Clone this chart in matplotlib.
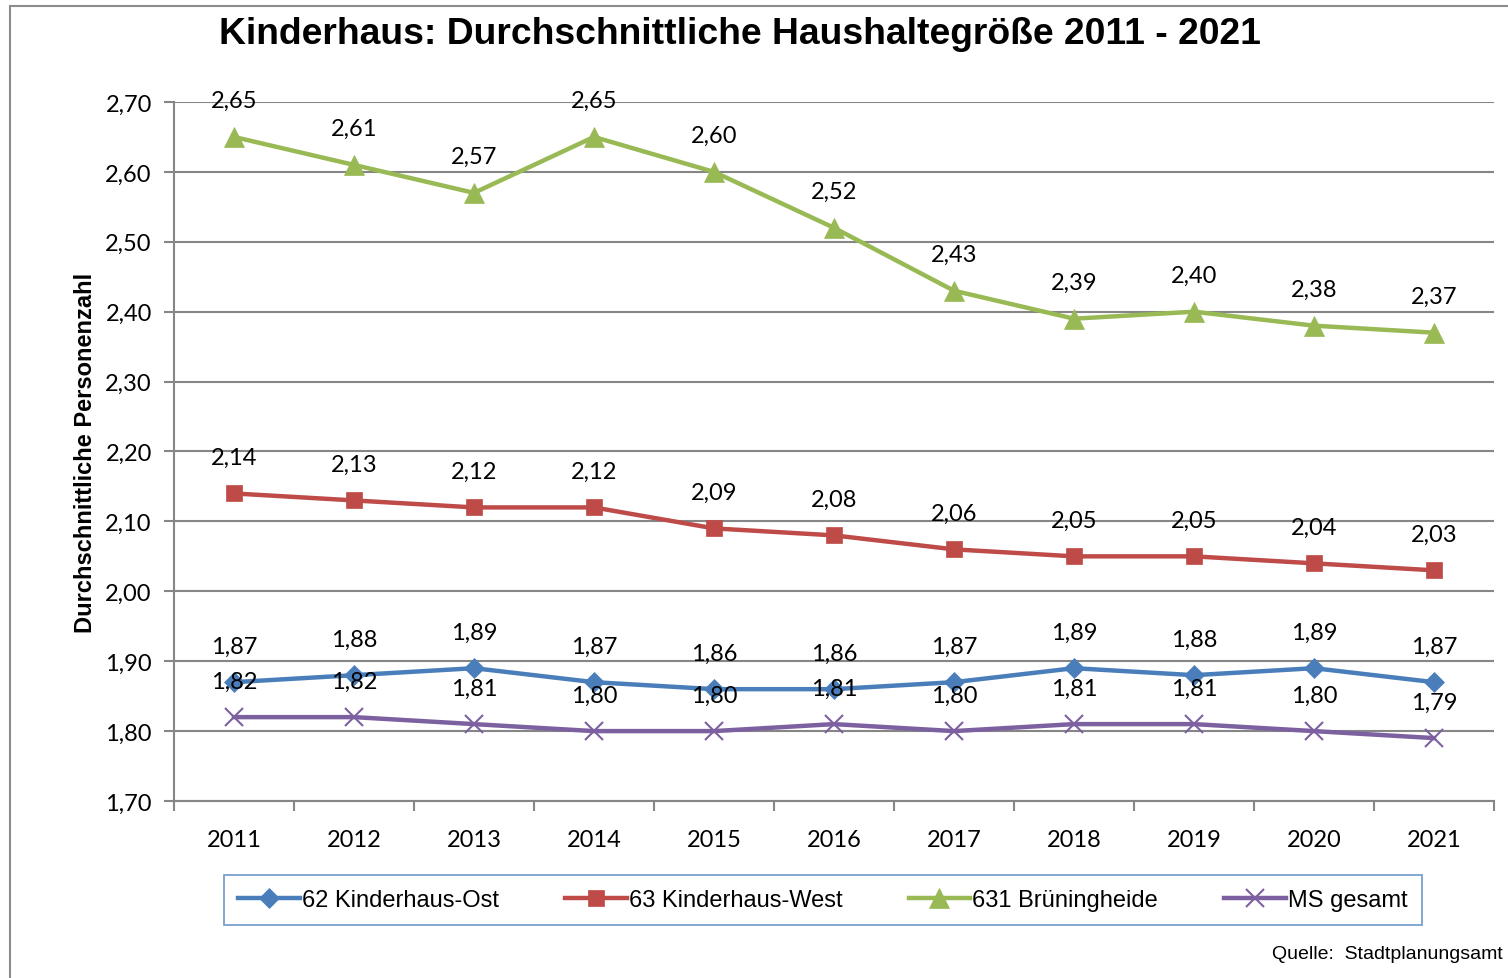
import matplotlib
matplotlib.use("Agg")
import matplotlib.pyplot as plt
from matplotlib.patches import Rectangle
from matplotlib.ticker import FixedLocator

years = ["2011", "2012", "2013", "2014", "2015", "2016", "2017", "2018", "2019", "2020", "2021"]
ost = [1.87, 1.88, 1.89, 1.87, 1.86, 1.86, 1.87, 1.89, 1.88, 1.89, 1.87]
west = [2.14, 2.13, 2.12, 2.12, 2.09, 2.08, 2.06, 2.05, 2.05, 2.04, 2.03]
bruen = [2.65, 2.61, 2.57, 2.65, 2.60, 2.52, 2.43, 2.39, 2.40, 2.38, 2.37]
ms = [1.82, 1.82, 1.81, 1.80, 1.80, 1.81, 1.80, 1.81, 1.81, 1.80, 1.79]
y_ticks = [1.70, 1.80, 1.90, 2.00, 2.10, 2.20, 2.30, 2.40, 2.50, 2.60, 2.70]

series = [
    ("62 Kinderhaus-Ost", ost, "#4a7ebb", "D", 10.5),
    ("63 Kinderhaus-West", west, "#be4b48", "s", 11.5),
    ("631 Brüningheide", bruen, "#98b954", "^", 14),
    ("MS gesamt", ms, "#7d60a0", "x", 13),
]

label_font = "Lato"
grid_col = "#868686"

fig = plt.figure(figsize=(15.08, 9.79), dpi=100)
ax = fig.add_axes([174 / 1508, 1 - 802 / 979, 1320 / 1508, 699 / 979])

x = list(range(len(years)))
for name, vals, col, mk, ms_ in series:
    ax.plot(x, vals, color=col, lw=3.2, marker=mk, markersize=ms_,
            markeredgewidth=1.5 if mk == "x" else 0.5, markeredgecolor=col,
            label=name, zorder=3)
    for xi, v in zip(x, vals):
        ax.annotate(f"{v:.2f}".replace(".", ","), (xi, v), xytext=(0, 26),
                    textcoords="offset points", ha="center", va="center",
                    fontsize=17, family=label_font, zorder=4)

ax.set_xlim(-0.5, len(years) - 0.5)
ax.set_ylim(1.70, 2.70)
ax.set_yticks(y_ticks)
ax.set_yticklabels([f"{t:.2f}".replace(".", ",") for t in y_ticks],
                   fontsize=17, family=label_font)
ax.set_xticks(x)
ax.set_xticklabels(years, fontsize=17, family=label_font)
ax.xaxis.set_minor_locator(FixedLocator([i - 0.5 for i in range(len(years) + 1)]))
ax.tick_params(axis="x", which="major", length=0, pad=20)
ax.tick_params(axis="x", which="minor", length=7, width=1.5, color=grid_col)
ax.tick_params(axis="y", length=7, width=1.5, color=grid_col, pad=9)
ax.grid(axis="y", color=grid_col, lw=1.5)
ax.set_axisbelow(True)
for s in ["top", "right"]:
    ax.spines[s].set_visible(False)
for s in ["left", "bottom"]:
    ax.spines[s].set_color(grid_col)
    ax.spines[s].set_linewidth(1.5)

ax.set_ylabel("Durchschnittliche Personenzahl", fontsize=17, fontweight="bold",
              family="Liberation Sans", labelpad=6)

fig.text(740 / 1508, 1 - 35 / 979, "Kinderhaus: Durchschnittliche Haushaltegröße 2011 - 2021",
         ha="center", va="center", fontsize=26.8, fontweight="bold", family="Liberation Sans")

leg = fig.legend(loc="center", bbox_to_anchor=(823 / 1508, 1 - 901 / 979), ncol=4,
                 frameon=True, fancybox=False, prop={"family": "Liberation Sans", "size": 17},
                 handlelength=2.6, handletextpad=0.1, columnspacing=2.8,
                 borderpad=0.6, borderaxespad=0)
leg.get_frame().set_edgecolor("#4a7ebb")
leg.get_frame().set_linewidth(1.2)

fig.text(1272 / 1508, 1 - 955 / 979, "Quelle:  Stadtplanungsamt", ha="left", va="center",
         fontsize=14, family="Liberation Sans")

fig.patches.append(Rectangle((10 / 1508, -0.1), 1.2, 1 - 7 / 979 + 0.1, transform=fig.transFigure,
                             fill=False, edgecolor="#8c8c8c", lw=1.5))

fig.savefig("out.png", dpi=100)
